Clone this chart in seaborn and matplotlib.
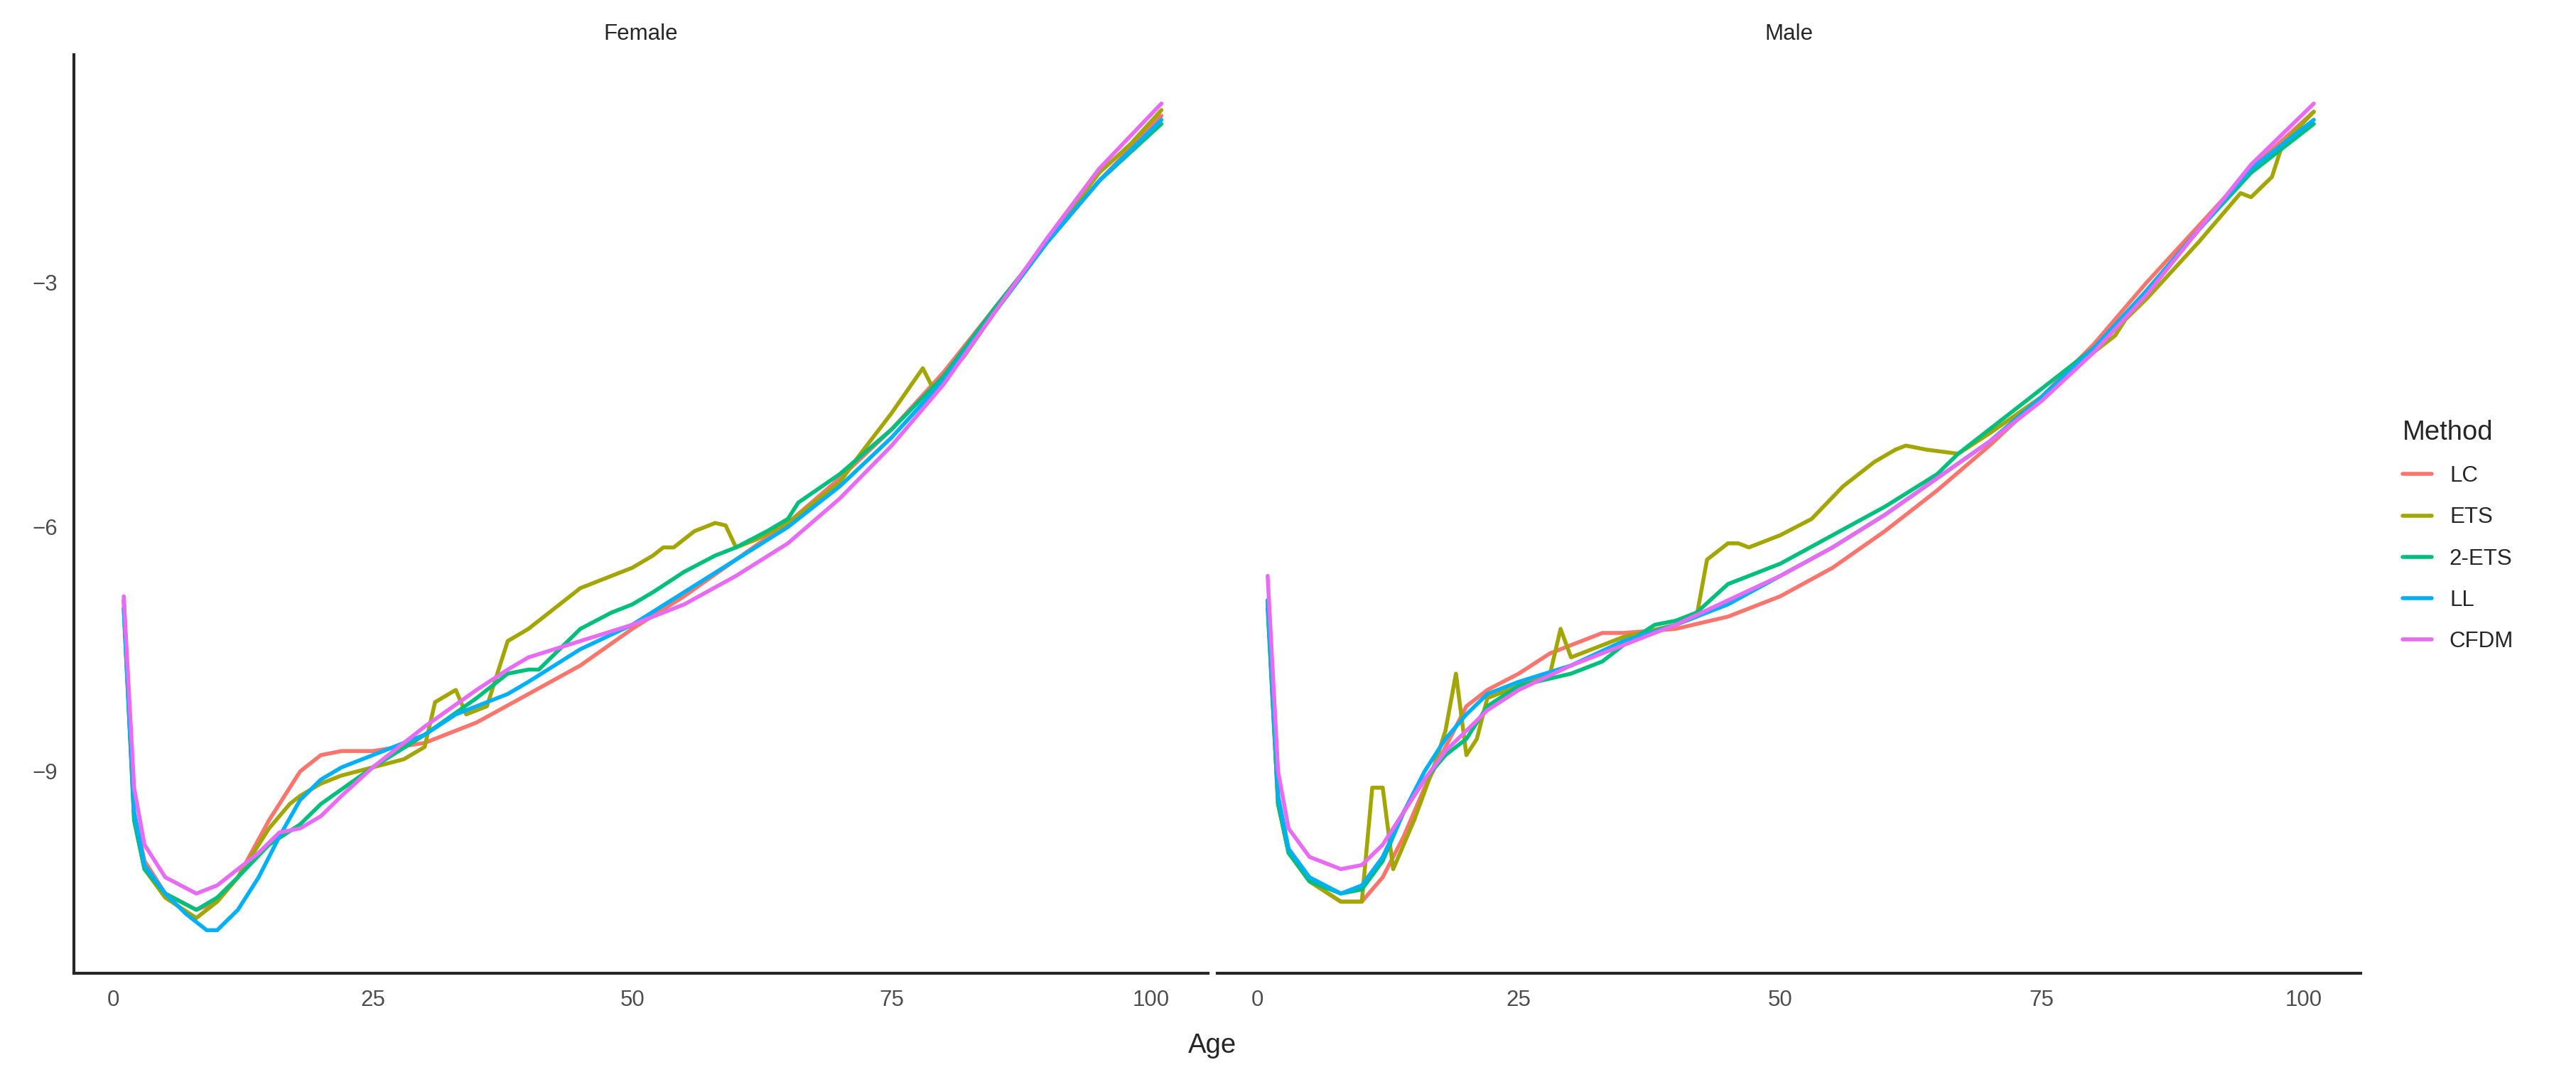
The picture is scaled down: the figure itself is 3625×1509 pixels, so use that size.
import pandas as pd
import numpy as np
import matplotlib
matplotlib.use("Agg")
import matplotlib.pyplot as plt
import seaborn as sns

methods = ["LC", "ETS", "2-ETS", "LL", "CFDM"]
palette = ["#F8766D", "#A3A500", "#00BF7D", "#00B0F6", "#E76BF3"]

# -----------------------------
# Female curves (age, log mortality)
# -----------------------------
f_lc_age = [1, 2, 3, 5, 8, 10, 12, 15, 18, 20, 22, 25, 30, 35, 40, 45, 50, 55, 60, 65, 70, 75, 80, 85, 90, 95, 101]
f_lc_val = [-6.9, -9.5, -10.1, -10.5, -10.7, -10.6, -10.3, -9.6, -9.0, -8.8, -8.75, -8.75, -8.65, -8.4, -8.05, -7.7,
            -7.25, -6.85, -6.4, -5.95, -5.4, -4.8, -4.1, -3.3, -2.5, -1.75, -0.95]
f_ets_age = [1, 2, 3, 5, 8, 10, 12, 15, 17, 18, 20, 22, 25, 28, 30, 31, 33, 34, 36, 37, 38, 40, 42, 45, 48, 50, 52,
             53, 54, 56, 58, 59, 60, 62, 65, 68, 70, 72, 75, 78, 79, 80, 82, 85, 90, 95, 98, 101]
f_ets_val = [-6.9, -9.6, -10.2, -10.55, -10.8, -10.6, -10.3, -9.7, -9.4, -9.3, -9.15, -9.05, -8.95, -8.85, -8.7,
             -8.15, -8.0, -8.3, -8.2, -7.8, -7.4, -7.25, -7.05, -6.75, -6.6, -6.5, -6.35, -6.25, -6.25, -6.05, -5.95,
             -5.98, -6.25, -6.15, -5.95, -5.65, -5.45, -5.1, -4.6, -4.05, -4.3, -4.2, -3.9, -3.35, -2.5, -1.65, -1.3, -0.88]
f_2ets_age = [1, 2, 3, 5, 8, 10, 12, 15, 18, 20, 25, 30, 35, 38, 40, 41, 45, 48, 50, 52, 55, 58, 60, 63, 65, 66,
              70, 75, 80, 85, 90, 95, 101]
f_2ets_val = [-7.0, -9.6, -10.2, -10.5, -10.7, -10.55, -10.3, -9.9, -9.65, -9.4, -8.95, -8.55, -8.1, -7.8, -7.75,
              -7.75, -7.25, -7.05, -6.95, -6.8, -6.55, -6.35, -6.25, -6.05, -5.9, -5.7, -5.35, -4.8, -4.15, -3.3,
              -2.5, -1.75, -1.05]
f_ll_age = [1, 2, 3, 5, 7, 9, 10, 12, 14, 16, 18, 20, 22, 25, 30, 33, 36, 38, 40, 45, 50, 55, 60, 65, 70, 75, 80,
            85, 90, 95, 101]
f_ll_val = [-7.0, -9.5, -10.15, -10.5, -10.75, -10.95, -10.95, -10.7, -10.3, -9.8, -9.35, -9.1, -8.95, -8.8, -8.55,
            -8.3, -8.15, -8.05, -7.9, -7.5, -7.2, -6.8, -6.4, -6.0, -5.5, -4.9, -4.2, -3.35, -2.5, -1.75, -1.0]
f_cfdm_age = [1, 2, 3, 5, 8, 10, 12, 14, 16, 18, 20, 22, 25, 30, 35, 38, 40, 45, 50, 55, 60, 65, 70, 75, 80, 85,
              90, 95, 101]
f_cfdm_val = [-6.85, -9.2, -9.9, -10.3, -10.5, -10.4, -10.2, -10.0, -9.75, -9.7, -9.55, -9.3, -8.95, -8.45, -8.0,
              -7.75, -7.6, -7.4, -7.2, -6.95, -6.6, -6.2, -5.65, -5.0, -4.25, -3.35, -2.45, -1.6, -0.8]

# -----------------------------
# Male curves
# -----------------------------
m_lc_age = [1, 2, 3, 5, 8, 10, 12, 14, 16, 18, 20, 22, 25, 28, 30, 33, 35, 40, 45, 50, 55, 60, 65, 70, 75, 80, 85,
            90, 95, 101]
m_lc_val = [-6.9, -9.4, -9.95, -10.35, -10.6, -10.6, -10.3, -9.8, -9.2, -8.7, -8.2, -8.0, -7.8, -7.55, -7.45, -7.3,
            -7.3, -7.25, -7.1, -6.85, -6.5, -6.05, -5.55, -5.0, -4.4, -3.75, -3.0, -2.3, -1.6, -0.9]
m_ets_age = [1, 2, 3, 5, 8, 10, 11, 12, 13, 15, 17, 18, 19, 20, 21, 22, 25, 28, 29, 30, 35, 40, 42, 43, 45, 46, 47,
             50, 53, 56, 59, 61, 62, 64, 67, 70, 75, 80, 82, 83, 85, 90, 94, 95, 97, 98, 101]
m_ets_val = [-6.9, -9.4, -10.0, -10.35, -10.6, -10.6, -9.2, -9.2, -10.2, -9.6, -8.9, -8.5, -7.8, -8.8, -8.6, -8.1,
             -7.95, -7.8, -7.25, -7.6, -7.35, -7.2, -7.1, -6.4, -6.2, -6.2, -6.25, -6.1, -5.9, -5.5, -5.2, -5.05,
             -5.0, -5.05, -5.1, -4.85, -4.4, -3.85, -3.65, -3.45, -3.2, -2.5, -1.9, -1.95, -1.7, -1.3, -0.9]
m_2ets_age = [1, 2, 3, 5, 8, 10, 12, 14, 16, 18, 20, 22, 25, 30, 33, 35, 38, 40, 42, 45, 50, 55, 60, 65, 67, 70, 75,
              80, 85, 90, 95, 101]
m_2ets_val = [-7.0, -9.4, -10.0, -10.35, -10.5, -10.45, -10.1, -9.5, -9.1, -8.8, -8.6, -8.2, -7.95, -7.8, -7.65,
              -7.45, -7.2, -7.15, -7.05, -6.7, -6.45, -6.1, -5.75, -5.35, -5.1, -4.8, -4.3, -3.8, -3.1, -2.35, -1.65, -1.05]
m_ll_age = [1, 2, 3, 5, 8, 10, 12, 14, 16, 18, 20, 22, 25, 30, 35, 40, 45, 50, 55, 60, 65, 70, 75, 80, 85, 90, 95, 101]
m_ll_val = [-6.9, -9.3, -9.95, -10.3, -10.5, -10.4, -10.05, -9.5, -9.0, -8.6, -8.3, -8.05, -7.9, -7.7, -7.4, -7.2,
            -6.95, -6.6, -6.25, -5.85, -5.4, -4.95, -4.4, -3.8, -3.1, -2.35, -1.6, -1.0]
m_cfdm_age = [1, 2, 3, 5, 8, 10, 12, 14, 16, 18, 20, 22, 25, 30, 35, 40, 45, 50, 55, 60, 65, 70, 75, 80, 85, 90, 95, 101]
m_cfdm_val = [-6.6, -9.0, -9.7, -10.05, -10.2, -10.15, -9.9, -9.5, -9.1, -8.75, -8.5, -8.25, -8.0, -7.7, -7.45, -7.2,
              -6.9, -6.6, -6.25, -5.85, -5.4, -4.95, -4.45, -3.85, -3.15, -2.35, -1.55, -0.8]

series = {
    "Female": [(f_lc_age, f_lc_val), (f_ets_age, f_ets_val), (f_2ets_age, f_2ets_val),
               (f_ll_age, f_ll_val), (f_cfdm_age, f_cfdm_val)],
    "Male": [(m_lc_age, m_lc_val), (m_ets_age, m_ets_val), (m_2ets_age, m_2ets_val),
             (m_ll_age, m_ll_val), (m_cfdm_age, m_cfdm_val)],
}

rows = []
for sex, lst in series.items():
    for m, (a, v) in zip(methods, lst):
        for x, y in zip(a, v):
            rows.append({"Sex": sex, "Method": m, "Age": x, "Value": y})
df = pd.DataFrame(rows)

sns.set_style("white")
plt.rcParams["font.family"] = ["Liberation Sans", "DejaVu Sans"]

fig = plt.figure(figsize=(14.5, 6.036), dpi=250)
ax1 = fig.add_axes([0.0287, 0.092, 0.4403, 0.857])
ax2 = fig.add_axes([0.4726, 0.092, 0.4439, 0.857], sharey=ax1)

for ax, sex in [(ax1, "Female"), (ax2, "Male")]:
    sns.lineplot(data=df[df["Sex"] == sex], x="Age", y="Value", hue="Method", hue_order=methods,
                 palette=palette, linewidth=1.6, ax=ax, legend=(sex == "Male"), sort=True)
    ax.set_xlim(-3.8, 105.5)
    ax.set_ylim(-11.48, -0.2)
    ax.set_xticks([0, 25, 50, 75, 100])
    ax.set_xlabel("")
    ax.set_ylabel("")
    ax.set_title(sex, fontsize=9, pad=6)
    for s in ["top", "right"]:
        ax.spines[s].set_visible(False)
    ax.spines["bottom"].set_linewidth(1.2)
    ax.spines["left"].set_linewidth(1.2)
    ax.tick_params(axis="both", colors="#4D4D4D", labelsize=9, length=3, width=1, direction="out")
    ax.tick_params(axis="both", color="black")

ax1.set_yticks([-3, -6, -9])
ax1.set_yticklabels(["\u22123", "\u22126", "\u22129"])
ax2.spines["left"].set_visible(False)
ax2.tick_params(axis="y", left=False, labelleft=False)

handles, labels = ax2.get_legend_handles_labels()
ax2.get_legend().remove()
fig.legend(handles, labels, title="Method", loc="center left", bbox_to_anchor=(0.925, 0.5),
           frameon=False, fontsize=9, title_fontsize=11, handlelength=1.3, labelspacing=0.9,
           alignment="left")
fig.text(0.4706, 0.018, "Age", ha="center", fontsize=11)

fig.savefig("out.png", dpi=250)
